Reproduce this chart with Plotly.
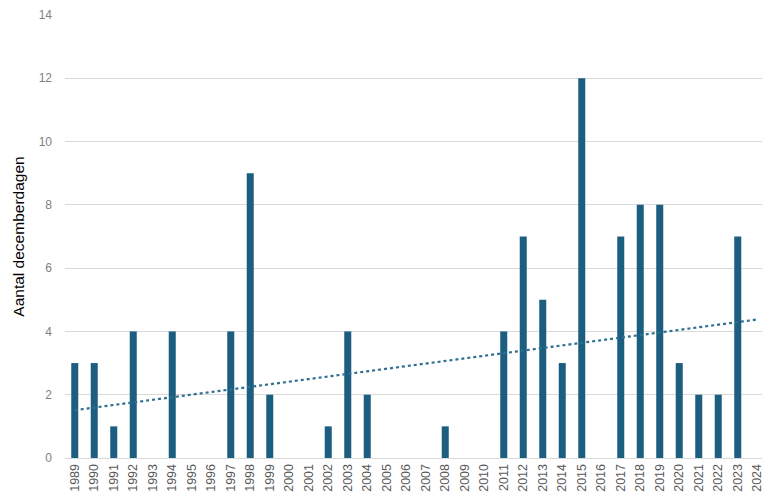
import numpy as np
import plotly.graph_objects as go

# December days per year (2024 has no bar)
years = [str(y) for y in range(1989, 2025)]
dagen = [3, 3, 1, 4, 0, 4, 0, 0, 4, 9,
         2, 0, 0, 1, 4, 2, 0, 0, 0, 1,
         0, 0, 4, 7, 5, 3, 12, 0, 7, 8,
         8, 3, 2, 2, 7, 0]

y_ticks = [0, 2, 4, 6, 8, 10, 12, 14]

# linear trendline over all categories
idx = np.arange(len(years))
slope, intercept = np.polyfit(idx, dagen, 1)
trend = intercept + slope * idx

bar_color = "#1b5e80"

fig = go.Figure()
fig.add_trace(go.Bar(x=years, y=dagen, marker_color=bar_color,
                     marker_line_width=0, showlegend=False))
fig.add_trace(go.Scatter(x=years, y=trend, mode="lines",
                         line=dict(color="#2f6f8f", width=2.2, dash="dot"),
                         showlegend=False))

# page body has an 8px margin, so the figure is a bit smaller than the window
fig.update_layout(
    width=762, height=495,
    margin=dict(l=57, r=3, t=7, b=45),
    plot_bgcolor="white", paper_bgcolor="white",
    bargap=0.64,
    font=dict(family="Liberation Sans, Arial, sans-serif", color="#595959"),
)
fig.update_xaxes(type="category", tickangle=-90, tickfont=dict(size=12.5, color="#595959"),
                 showgrid=False, showline=True, linecolor="#d9d9d9", linewidth=1,
                 ticks="", ticklabelstandoff=0, automargin=False, fixedrange=True)
fig.update_yaxes(range=[0, 14], tickvals=y_ticks, tickfont=dict(size=12, color="#808080"),
                 showgrid=True, gridcolor="#d9d9d9", gridwidth=1, zeroline=False,
                 ticks="", ticklabelstandoff=12, automargin=False,
                 title=dict(text="Aantal decemberdagen", font=dict(size=15.5, color="#000000"),
                            standoff=10))

fig.write_html("out.html")
